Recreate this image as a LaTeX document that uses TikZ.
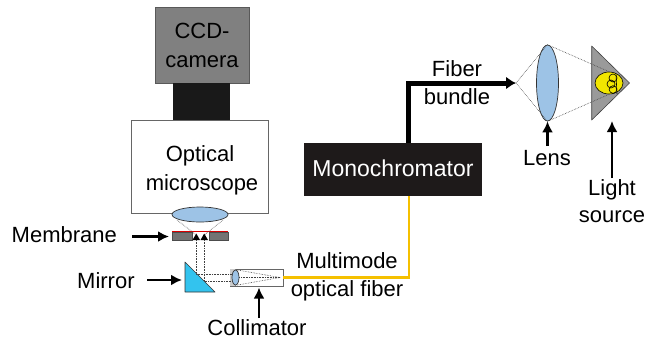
\documentclass[tikz,border=0pt]{standalone}
\usepackage{fontspec}
\setmainfont{Liberation Sans}
\usetikzlibrary{arrows.meta,shapes.geometric}
\definecolor{camgray}{HTML}{808080}
\definecolor{lensblue}{HTML}{9DC3E6}
\definecolor{mirrorcyan}{HTML}{33C3EE}
\definecolor{fibergold}{HTML}{F5C000}
\definecolor{bulbyellow}{HTML}{F2E600}
\definecolor{housing}{HTML}{9A9A9A}
\definecolor{monoblack}{HTML}{1E1A1A}
\tikzset{
  lbl/.style={font=\fontsize{22}{26}\selectfont, inner sep=0pt, anchor=base},
  ptr/.style={line width=2.8pt, -{Latex[length=11pt,width=11pt]}},
  ray/.style={densely dotted, line width=0.6pt, black!75},
  lensnode/.style={ellipse, draw=black!80, fill=lensblue, line width=0.7pt, inner sep=0pt},
  boxedge/.style={line width=0.8pt}
}
\begin{document}
\begin{tikzpicture}[x=1pt,y=-1pt]
\useasboundingbox (0,0) rectangle (647,341);

% ---- microscope column ----
\node[boxedge, draw=black!65, fill=camgray, minimum width=94pt, minimum height=76pt, inner sep=0pt] (ccd) at (202,45) {};
\node[fill=black!90, minimum width=57pt, minimum height=37pt, inner sep=0pt] (adapter) at (201.5,101.5) {};
\node[boxedge, draw=black!60, fill=white, minimum width=137pt, minimum height=93pt, inner sep=0pt] (scope) at (199.5,166.5) {};
\node[lbl] (ccdA) at (202,38) {CCD-};
\node[lbl] (ccdB) at (202,67) {camera};
\node[lbl] (scA) at (200,161.5) {Optical};
\node[lbl] (scB) at (202,190) {microscope};
\node[lensnode, minimum width=56pt, minimum height=15pt] (mlens) at (200,214.5) {};

% membrane with two pores
\fill[black!55] (172,232) rectangle (192,240);
\fill[black!55] (209,232) rectangle (228,240);
\draw[black!70, line width=0.5pt] (172,232) rectangle (192,240) (209,232) rectangle (228,240);
\draw[red!85!black, line width=1.6pt] (172,231.5) -- (228,231.5);
\fill[black] (192.5,240) -- (196.3,233.5) -- (200,240) -- cycle;
\fill[black] (200.5,240) -- (204.2,233.5) -- (208,240) -- cycle;
\coordinate (mem) at (169,236.5);

% mirror
\coordinate (mirA) at (185,262);
\coordinate (mirB) at (185,292);
\coordinate (mirC) at (215,292);
\draw[fill=mirrorcyan, draw=black!80, line width=0.6pt, line join=round] (mirA) -- (mirB) -- (mirC) -- cycle;
\coordinate (mir) at (182,280);

% collimator
\node[draw=black!60, fill=white, line width=0.8pt, minimum width=53pt, minimum height=17pt, inner sep=0pt] (coll) at (256.5,277.5) {};
\fill[black!20] (230.4,269.4) rectangle (236,285.6);
\node[lensnode, minimum width=7pt, minimum height=15pt] (clens) at (235.5,277.5) {};
\coordinate (collF) at (280,277.5);

% light path: lens -> membrane -> mirror -> collimator
\draw[ray] (177,220) -- (196.3,235);
\draw[ray] (223,220) -- (204.2,235);
\draw[ray] (196.3,240) -- (196.3,274) -- (clens.west |- 0,274);
\draw[ray] (204.2,240) -- (204.2,281) -- (clens.west |- 0,281);
\draw[ray] (clens.north) -- (collF);
\draw[ray] (clens.south) -- (collF);
\draw[ray] (clens.east) -- (collF);

% ---- monochromator and fibres ----
\node[fill=monoblack, minimum width=178pt, minimum height=53pt, inner sep=0pt] (mono) at (393,169.5) {};
\node[lbl, text=white, font=\fontsize{23}{27}\selectfont] (monoT) at (393,176.7) {Monochromator};
\draw[fibergold, line width=2.6pt] (coll.east) -- (409,277.5) -- (mono.south -| 409,0);
\node[lbl] (mmA) at (347,268.5) {Multimode};
\node[lbl] (mmB) at (347,296.7) {optical fiber};

% ---- lens and light source ----
\node[lensnode, minimum width=22pt, minimum height=76pt] (rlens) at (547.5,83) {};
\coordinate (focus) at (516,83);
\draw[line width=5pt, -{Latex[length=10pt,width=13pt]}] (mono.north -| 408,0) -- (408,83) -- (focus);
\node[lbl] (fbA) at (457,76) {Fiber};
\node[lbl] (fbB) at (457,104) {bundle};
\draw[ray] (focus) -- (rlens.north);
\draw[ray] (focus) -- (rlens.south);

\coordinate (srcA) at (591.7,46);
\coordinate (srcB) at (591.7,120);
\coordinate (srcC) at (629.5,83);
\draw[fill=housing, draw=black!75, line width=0.6pt, line join=round] (srcA) -- (srcB) -- (srcC) -- cycle;
\node[ellipse, draw=black, fill=bulbyellow, line width=0.6pt, minimum width=28pt, minimum height=22pt, inner sep=0pt] (bulb) at (609,83) {};
\draw[ray] (rlens.north) -- (bulb.north);
\draw[ray] (rlens.south) -- (bulb.south);
% filament coil
\draw[black, line width=0.6pt] (613,78) circle[radius=4] (611,84) circle[radius=4] (613,89.5) circle[radius=3.8];
\draw[black, line width=0.6pt] (616,75) -- (617,94);

% ---- labels and pointers ----
\node[lbl, anchor=base west] (memT) at (11.5,242.5) {Membrane};
\draw[ptr] (132,236.5) -- (mem);
\node[lbl, anchor=base west] (mirT) at (77,288) {Mirror};
\draw[ptr] (147,280) -- (mir);
\node[lbl] (colT) at (257,335) {Collimator};
\draw[ptr] (259,318) -- (259,287.5);
\node[lbl] (lensT) at (547,165) {Lens};
\draw[ptr] (547.5,146) -- (rlens.south);
\node[lbl] (lsA) at (612,195) {Light};
\node[lbl] (lsB) at (612,222) {source};
\draw[ptr] (612,178) -- (612,121);
\end{tikzpicture}
\end{document}
